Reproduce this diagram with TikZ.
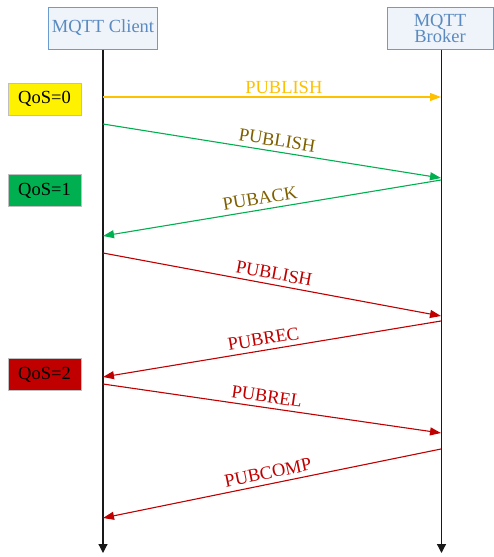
\documentclass[tikz,border=0pt]{standalone}
\usepackage{fontspec}
\setmainfont{Liberation Serif}
\usetikzlibrary{arrows.meta}
\definecolor{boxblue}{HTML}{6C9BCF}
\definecolor{boxfill}{HTML}{EFF4FB}
\definecolor{txtblue}{HTML}{5A8AC0}
\definecolor{qyellow}{HTML}{FFC000}
\definecolor{qgreen}{HTML}{00B050}
\definecolor{qred}{HTML}{C00000}
\definecolor{lblbrown}{HTML}{7F6000}
\definecolor{qborder}{HTML}{BFBFBF}
\begin{document}
\begin{tikzpicture}[x=1pt,y=-1pt,
  actor/.style={draw=boxblue,line width=1pt,fill=boxfill,text=txtblue,font=\fontsize{18.5}{19}\selectfont,inner sep=0pt,align=center},
  qos/.style={draw=qborder,line width=1pt,minimum width=73pt,minimum height=32pt,inner sep=0pt,font=\fontsize{18.5}{20}\selectfont},
  life/.style={draw=black!90,line width=1.2pt,-{Triangle[length=9pt,width=9pt]}},
  msg/.style={line width=1.1pt,-{Triangle[length=11pt,width=8pt]}},
  lbl/.style={sloped,above,font=\fontsize{18.5}{20}\selectfont,inner sep=4.5pt}]
\useasboundingbox (0,0) rectangle (493,557);
% actors
\node[actor,minimum width=109pt,minimum height=42pt] (client) at (103,28) {MQTT Client};
\node[actor,minimum width=106pt,minimum height=42pt] (broker) at (440,28) {MQTT\\[-3pt]Broker};
% lifelines
\coordinate (cend) at (103,553);
\coordinate (bend) at (441.5,553);
\draw[life] (client.south -| cend) -- (cend);
\draw[life] (broker.south -| bend) -- (bend);
% qos boxes
\node[qos,fill=yellow] (q0) at (44.5,99) {QoS=0};
\node[qos,fill=qgreen] (q1) at (44.5,190.5) {QoS=1};
\node[qos,fill=qred] (q2) at (44.5,374.5) {QoS=2};
% message end points
\coordinate (c1) at (103,97);   \coordinate (b1) at (441,97);
\coordinate (c2) at (103,124);  \coordinate (b2) at (441,178);
\coordinate (b3) at (441,180);  \coordinate (c3) at (103,236);
\coordinate (c4) at (103,253);  \coordinate (b4) at (441,316);
\coordinate (b5) at (441,321);  \coordinate (c5) at (103,377);
\coordinate (c6) at (103,384);  \coordinate (b6) at (441,433);
\coordinate (b7) at (441,449);  \coordinate (c7) at (103,518);
% messages
\draw[msg,qyellow] (c1) -- node[lbl,text=qyellow,pos=0.535,inner sep=3pt] (l1) {PUBLISH} (b1);
\draw[msg,qgreen] (c2) -- node[lbl,text=lblbrown,pos=0.51] (l2) {PUBLISH} (b2);
\draw[msg,qgreen] (b3) -- node[lbl,text=lblbrown,pos=0.53] (l3) {PUBACK} (c3);
\draw[msg,qred] (c4) -- node[lbl,text=qred,pos=0.5] (l4) {PUBLISH} (b4);
\draw[msg,qred] (b5) -- node[lbl,text=qred,pos=0.52] (l5) {PUBREC} (c5);
\draw[msg,qred] (c6) -- node[lbl,text=qred,pos=0.48] (l6) {PUBREL} (b6);
\draw[msg,qred] (b7) -- node[lbl,text=qred,pos=0.505] (l7) {PUBCOMP} (c7);
\end{tikzpicture}
\end{document}
